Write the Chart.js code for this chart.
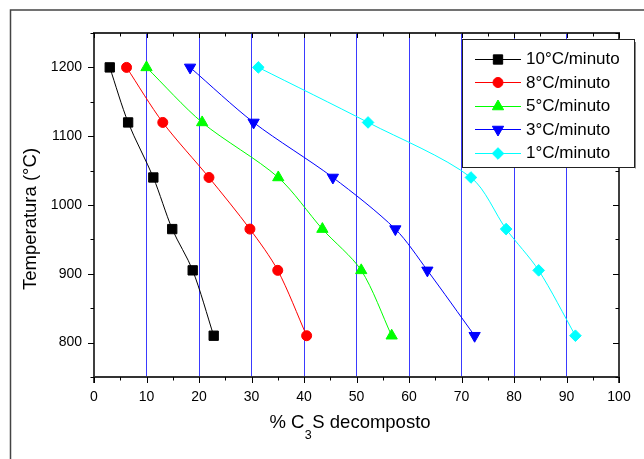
<!DOCTYPE html>
<html>
<head>
<meta charset="utf-8">
<script src="https://cdn.jsdelivr.net/npm/chart.js@4/dist/chart.umd.min.js"></script>
<style>
  html, body { margin: 0; padding: 0; background: #fff; }
  #wrap { width: 644px; height: 459px; position: relative; }
</style>
</head>
<body>
<div id="wrap"><canvas id="c" width="644" height="459"></canvas></div>
<script>
// ---- data ----
const temperatures = [1200, 1120, 1040, 965, 905, 810];
const seriesLabels = ['10°C/minuto', '8°C/minuto', '5°C/minuto', '3°C/minuto', '1°C/minuto'];
const rate10 = [3.0, 6.5, 11.3, 14.9, 18.8, 22.8];
const rate8  = [6.2, 13.1, 21.9, 29.7, 35.0, 40.5];
const rate5  = [10.0, 20.6, 35.1, 43.5, 50.9, 56.7];
const rate3  = [18.3, 30.4, 45.5, 57.4, 63.5, 72.5];
const rate1  = [31.3, 52.2, 71.8, 78.5, 84.7, 91.7];
const xTickValues = [0, 10, 20, 30, 40, 50, 60, 70, 80, 90, 100];
const yTickValues = [800, 900, 1000, 1100, 1200];

const seriesValues = [rate10, rate8, rate5, rate3, rate1];
const colors = ['#000000', '#ff0000', '#00ff00', '#0000ff', '#00ffff'];
const styles = [
  { pointStyle: 'rect', radius: 6.6, rotation: 0 },
  { pointStyle: 'circle', radius: 5, rotation: 0 },
  { pointStyle: 'triangle', radius: 6.5, rotation: 0 },
  { pointStyle: 'triangle', radius: 6.5, rotation: 180 },
  { pointStyle: 'rectRot', radius: 5.8, rotation: 0 }
];

const datasets = seriesValues.map((vals, i) => ({
  label: seriesLabels[i],
  data: vals.map((x, j) => ({ x: x, y: temperatures[j] })).sort((a, b) => a.x - b.x),
  showLine: true,
  borderColor: colors[i],
  backgroundColor: colors[i],
  borderWidth: 1,
  pointStyle: styles[i].pointStyle,
  pointRadius: styles[i].radius,
  pointRotation: styles[i].rotation,
  pointBorderWidth: 1,
  pointBorderColor: colors[i],
  pointBackgroundColor: colors[i],
  tension: 0.3
}));

const FONT = '"Liberation Sans", Arial, Helvetica, sans-serif';

function drawMarker(ctx, style, radius, rotation, x, y, color) {
  ctx.save();
  ctx.fillStyle = color;
  ctx.strokeStyle = color;
  ctx.lineWidth = 1;
  if (Chart.helpers && Chart.helpers.drawPoint) {
    Chart.helpers.drawPoint(ctx, { pointStyle: style, radius: radius, rotation: rotation, borderWidth: 1 }, x, y);
  }
  ctx.restore();
}

const decorPlugin = {
  id: 'decor',
  beforeDraw(chart) {
    const ctx = chart.ctx;
    ctx.save();
    ctx.fillStyle = '#ffffff';
    ctx.fillRect(0, 0, chart.width, chart.height);
    ctx.strokeStyle = '#444444';
    ctx.lineWidth = 1.5;
    ctx.beginPath();
    ctx.moveTo(10.5, 459);
    ctx.lineTo(10.5, 10);
    ctx.lineTo(644, 10);
    ctx.stroke();
    ctx.restore();
  },
  afterDraw(chart) {
    const ctx = chart.ctx;
    const xs = chart.scales.x, ys = chart.scales.y;
    const a = chart.chartArea;
    ctx.save();
    ctx.strokeStyle = '#000';
    ctx.lineWidth = 1.5;
    ctx.beginPath();
    ctx.moveTo(a.left, a.top); ctx.lineTo(a.left, a.bottom + 6);
    ctx.moveTo(a.right, a.top); ctx.lineTo(a.right, a.bottom + 6);
    ctx.stroke();
    ctx.strokeStyle = '#333';
    ctx.lineWidth = 2;
    ctx.beginPath();
    ctx.moveTo(a.left - 1, a.bottom); ctx.lineTo(a.right + 1, a.bottom);
    ctx.moveTo(a.left - 1, a.top); ctx.lineTo(a.right + 1, a.top);
    ctx.stroke();
    ctx.strokeStyle = '#000';
    ctx.lineWidth = 1;
    ctx.beginPath();
    for (let v = xs.min; v <= xs.max; v += 5) {
      const px = Math.round(xs.getPixelForValue(v)) + 0.5;
      const major = v % 10 === 0;
      ctx.moveTo(px, a.bottom); ctx.lineTo(px, a.bottom + (major ? 6 : 3.5));
      ctx.moveTo(px, a.top); ctx.lineTo(px, a.top + (major ? 5 : 3.5));
    }
    for (let v = ys.min; v <= ys.max; v += 50) {
      const py = Math.round(ys.getPixelForValue(v)) + 0.5;
      const major = v % 100 === 0;
      ctx.moveTo(a.left, py); ctx.lineTo(a.left - (major ? 6 : 3.5), py);
      ctx.moveTo(a.right, py); ctx.lineTo(a.right - (major ? 6 : 3.5), py);
    }
    ctx.stroke();

    // axis titles
    const TS = 18.5;
    ctx.fillStyle = '#000';
    ctx.font = TS + 'px ' + FONT;
    ctx.textBaseline = 'alphabetic';
    const p1 = '% C', p2 = '3', p3 = 'S decomposto';
    const w1 = ctx.measureText(p1).width;
    const w3 = ctx.measureText(p3).width;
    ctx.font = '12.5px ' + FONT;
    const w2 = ctx.measureText(p2).width;
    const total = w1 + w2 + w3 + 1;
    let sx = 350 - total / 2;
    const base = 428;
    ctx.font = TS + 'px ' + FONT;
    ctx.textAlign = 'left';
    ctx.fillText(p1, sx, base);
    ctx.font = '12.5px ' + FONT;
    ctx.fillText(p2, sx + w1 + 0.5, base + 11);
    ctx.font = TS + 'px ' + FONT;
    ctx.fillText(p3, sx + w1 + w2 + 1, base);

    ctx.save();
    ctx.translate(31, 219);
    ctx.rotate(-Math.PI / 2);
    ctx.textAlign = 'center';
    ctx.textBaseline = 'middle';
    ctx.font = TS + 'px ' + FONT;
    ctx.fillText('Temperatura (°C)', 0, 0);
    ctx.restore();

    // legend
    const lx = 462, ly = 39, lw = 172, lh = 128;
    ctx.fillStyle = '#fff';
    ctx.fillRect(lx, ly, lw, lh);
    ctx.strokeStyle = '#222';
    ctx.lineWidth = 1;
    ctx.strokeRect(lx + 0.5, ly + 0.5, lw, lh);
    ctx.strokeStyle = '#888';
    ctx.beginPath();
    ctx.moveTo(lx + lw + 1.5, ly + 3); ctx.lineTo(lx + lw + 1.5, ly + lh + 1.5);
    ctx.stroke();
    chart.data.datasets.forEach((ds, i) => {
      const y = 58.5 + i * 23.5;
      ctx.strokeStyle = ds.borderColor;
      ctx.lineWidth = 1;
      ctx.beginPath();
      ctx.moveTo(475, Math.round(y) + 0.5); ctx.lineTo(521, Math.round(y) + 0.5);
      ctx.stroke();
      drawMarker(ctx, ds.pointStyle, ds.pointRadius, ds.pointRotation, 498, Math.round(y) + 0.5, ds.borderColor);
      ctx.fillStyle = '#000';
      ctx.font = '17px ' + FONT;
      ctx.textAlign = 'left';
      ctx.textBaseline = 'middle';
      ctx.fillText(ds.label, 526, y + 1);
    });
    ctx.restore();
  }
};

new Chart(document.getElementById('c'), {
  type: 'scatter',
  data: { datasets: datasets },
  options: {
    responsive: false,
    animation: false,
    devicePixelRatio: 1,
    layout: { padding: { top: 33, right: 25, left: 0, bottom: 0 } },
    plugins: { legend: { display: false }, tooltip: { enabled: false } },
    scales: {
      x: {
        type: 'linear', min: 0, max: 100,
        afterFit(scale) { scale.height = 82; },
        afterBuildTicks(scale) { scale.ticks = xTickValues.map(v => ({ value: v })); },
        ticks: {
          autoSkip: false, maxRotation: 0, padding: 12,
          color: '#000', font: { family: FONT, size: 14 },
          callback: v => String(v)
        },
        grid: {
          drawTicks: false,
          color: c => (c.tick && c.tick.value > 0 && c.tick.value < 100) ? '#3a3aff' : 'rgba(0,0,0,0)',
          lineWidth: 1
        },
        border: { display: false }
      },
      y: {
        type: 'linear', min: 750, max: 1250,
        afterFit(scale) { scale.width = 94; },
        afterBuildTicks(scale) { scale.ticks = yTickValues.map(v => ({ value: v })); },
        ticks: {
          autoSkip: false, padding: 12,
          color: '#000', font: { family: FONT, size: 14 },
          callback: v => String(v)
        },
        grid: { display: false, drawTicks: false },
        border: { display: false }
      }
    }
  },
  plugins: [decorPlugin]
});
</script>
</body>
</html>
